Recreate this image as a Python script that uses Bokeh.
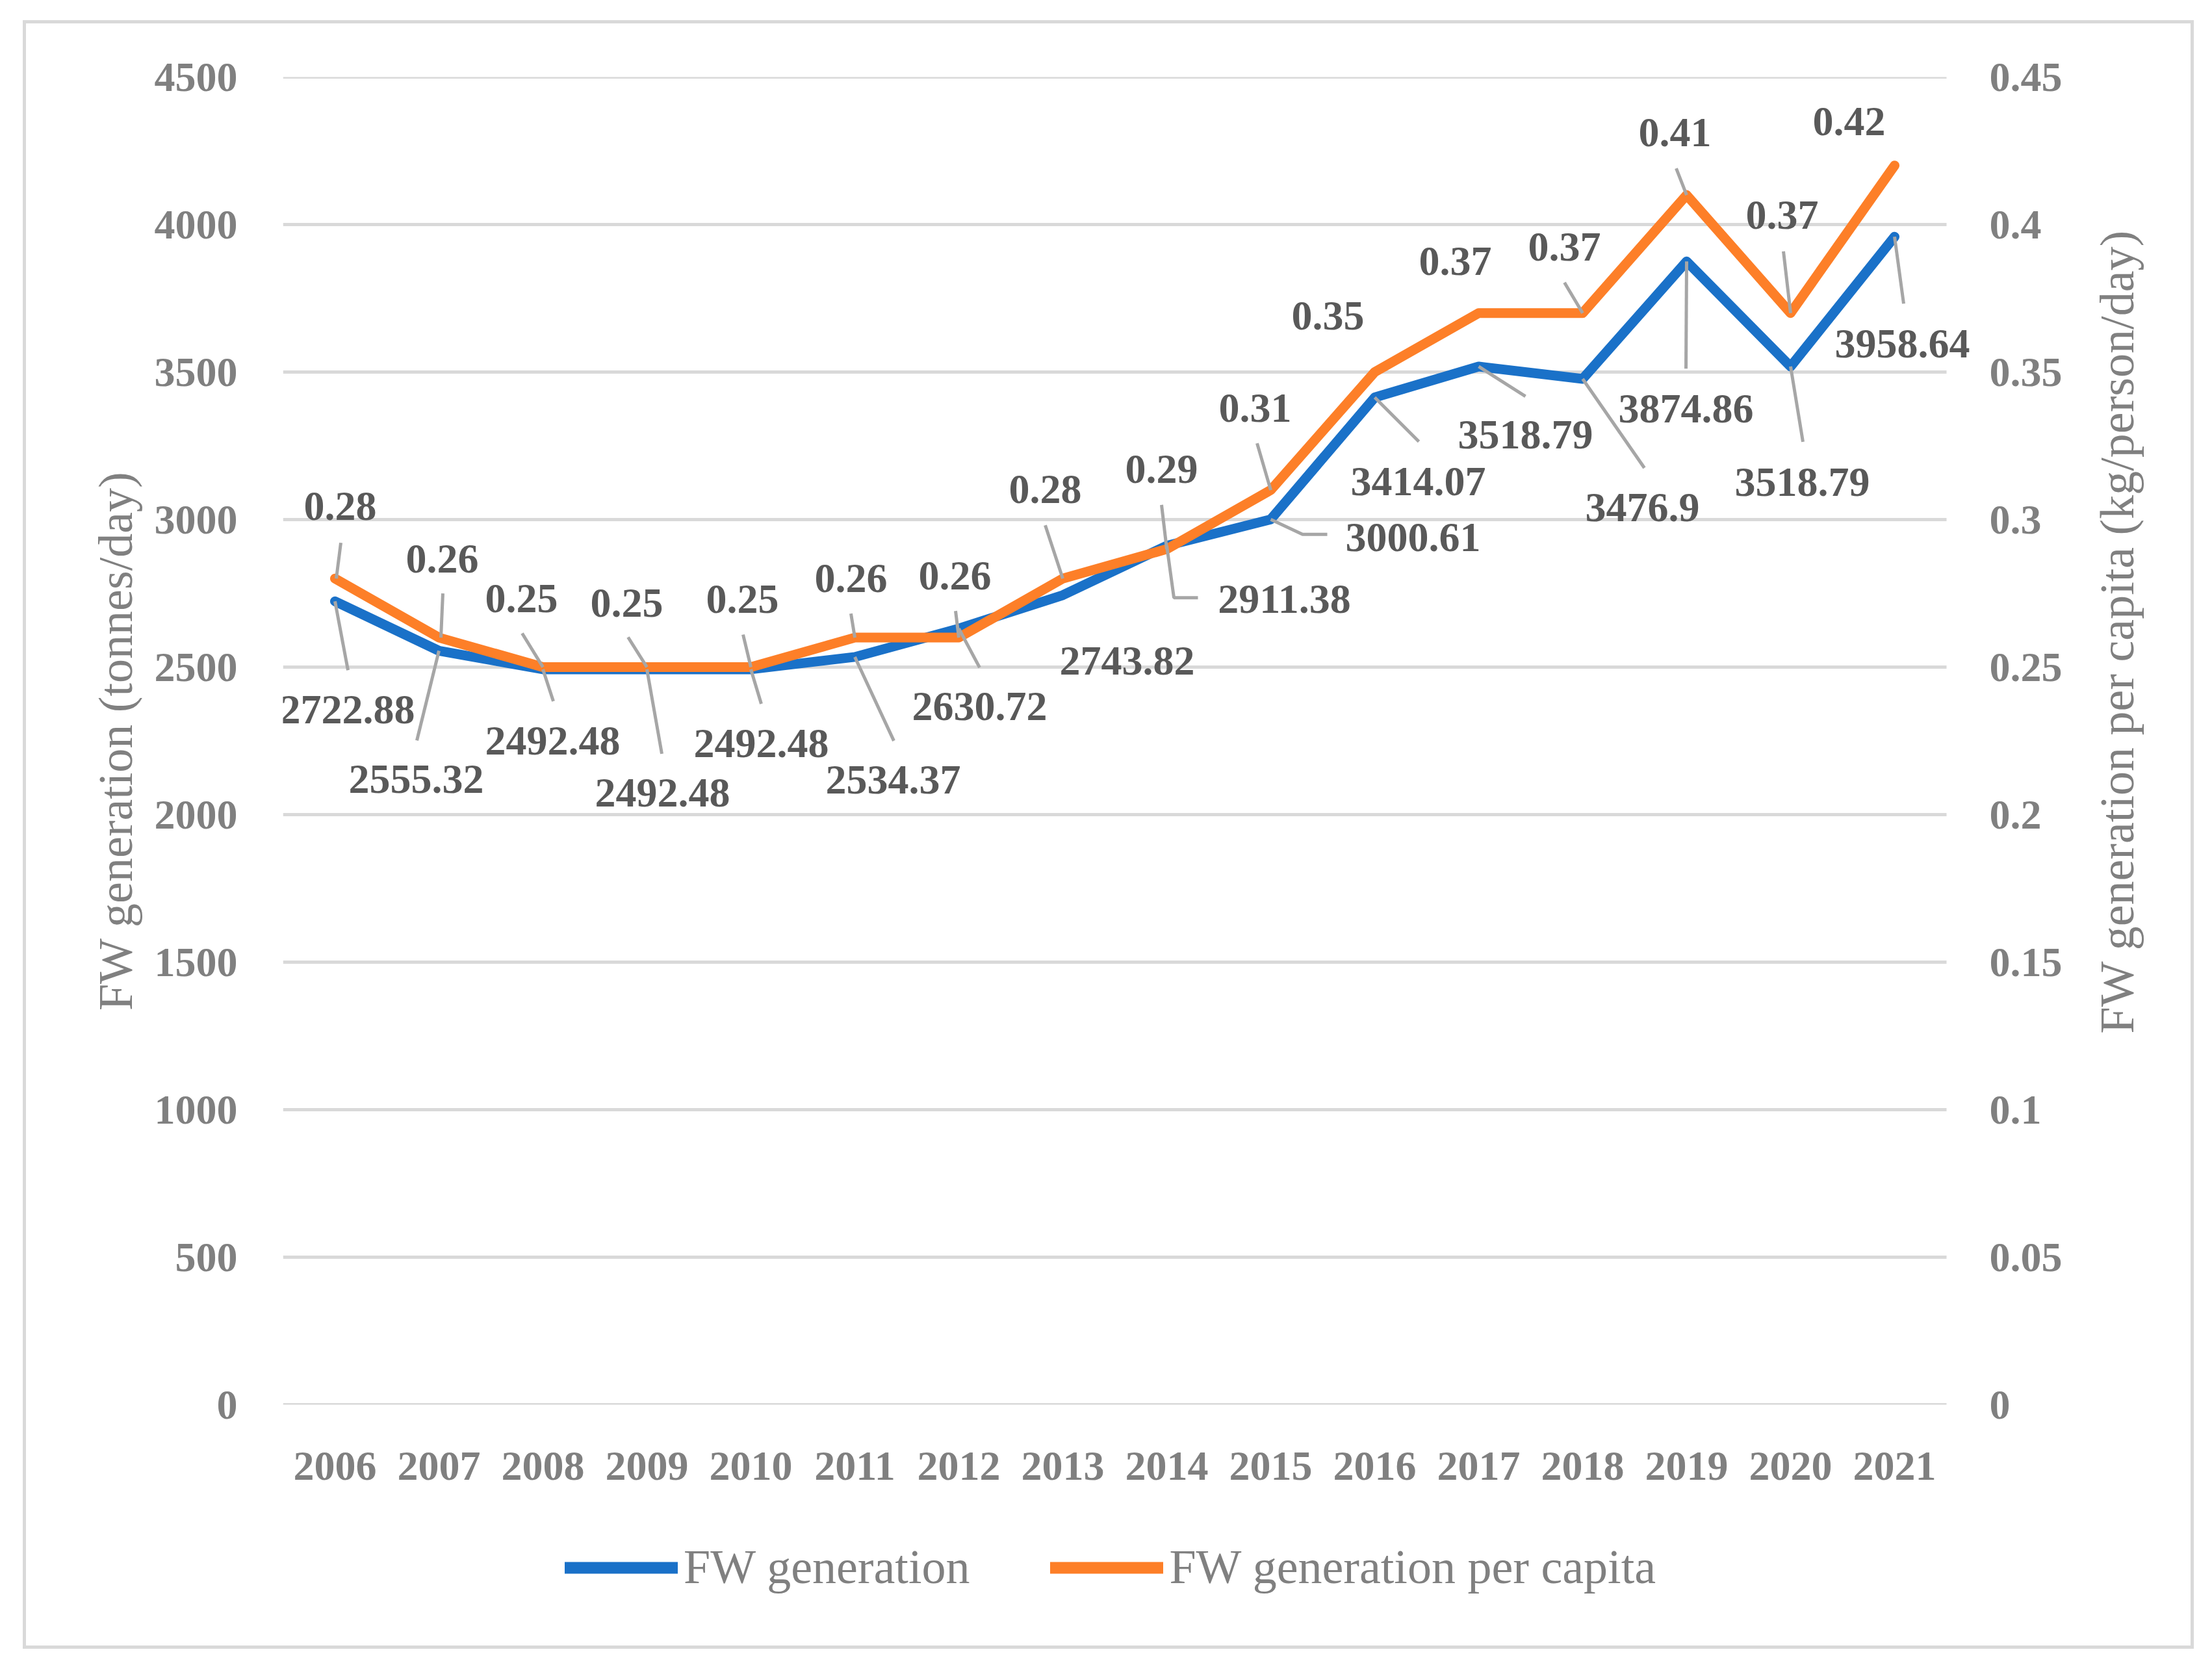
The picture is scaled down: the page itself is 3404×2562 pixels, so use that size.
import math
from bokeh.plotting import figure
from bokeh.layouts import column, row
from bokeh.models import (ColumnDataSource, Range1d, LinearAxis, FixedTicker, Label, LabelSet,
                          NumeralTickFormatter, Legend, LegendItem)
from bokeh.core.properties import value
from bokeh.embed import file_html
from bokeh.resources import INLINE

# data
years = ["2006", "2007", "2008", "2009", "2010", "2011", "2012", "2013",
         "2014", "2015", "2016", "2017", "2018", "2019", "2020", "2021"]
fw_generation = [2722.88, 2555.32, 2492.48, 2492.48, 2492.48, 2534.37, 2630.72, 2743.82,
                 2911.38, 3000.61, 3414.07, 3518.79, 3476.9, 3874.86, 3518.79, 3958.64]
fw_per_capita = [0.28, 0.26, 0.25, 0.25, 0.25, 0.26, 0.26, 0.28,
                 0.29, 0.31, 0.35, 0.37, 0.37, 0.41, 0.37, 0.42]
y_ticks = [0, 500, 1000, 1500, 2000, 2500, 3000, 3500, 4000, 4500]
pc_ticks = [0, 0.05, 0.1, 0.15, 0.2, 0.25, 0.3, 0.35, 0.4, 0.45]

# label placement (screen px offsets from each point, y downwards)
fw_label_dx = [19, -35, 15, 24, 16, 59, 32, 99, 181, 219, 67, 72, 92, -1, 18, 12]
fw_label_dy = [167, 198, 110, 190, 114, 189, 120, 101, 82, 28, 129, 105, 198, 227, 178, 165]
pc_label_dx = [8, 5, -33, -31, -13, -6, -6, -27, -8, -24, -72, -36, -28, -18, -13, -70]
pc_label_dy = [-111, -121, -106, -99, -105, -91, -95, -137, -123, -126, -87, -80, -102, -96, -151, -68]

# leader lines (screen px offsets from each point)
fw_leaders = [[(0, 0), (20, 106)], [(0, 0), (-34, 138)], [(0, 0), (16, 49)], [(0, 0), (23, 130)],
              [(0, 0), (16, 53)], [(0, 0), (60, 129)], [(0, 0), (32, 60)], [],
              [(0, 0), (11, 80), (48, 80)], [(0, 0), (49, 23), (87, 23)], [(0, 0), (68, 68)],
              [(0, 0), (72, 46)], [(0, 0), (95, 137)], [(0, 0), (-1, 165)], [(0, 0), (19, 116)],
              [(0, 0), (14, 103)]]
pc_leaders = [[(9, -55), (2, 0)], [(6, -68), (3, 0)], [(-32, -52), (0, 0)], [(-29, -46), (0, 0)],
              [(-12, -50), (0, 0)], [(-6, -37), (0, 0)], [(-5, -41), (0, 0)], [(-27, -82), (0, 0)],
              [(-8, -68), (0, 0)], [(-21, -72), (0, 0)], [], [], [(-28, -47), (0, 0)],
              [(-16, -41), (0, 0)], [(-11, -95), (0, 0)], []]

BLUE = "#1a71c8"
ORANGE = "#fd7f28"
GRID = "#d9d9d9"
TICK = "#808080"
LABEL = "#595959"
FONT = "Liberation Serif"

N = len(years)
PX_PER_CAT = 160
EXTRA = 0.3                     # room right of the last category so labels are not clipped
FRAME_H = 2043
Y_MAX, PC_MAX = 4500, 0.45
xs = [i + 0.5 for i in range(N)]

# block sizes inside the grey border
LEFT, TOP, RIGHT, BOTTOM = 395, 82, 140, 168
MAIN_W = LEFT + int((N + EXTRA) * PX_PER_CAT) + RIGHT
MAIN_H = TOP + FRAME_H + BOTTOM
TOTAL_W, TOTAL_H = 3331, 2496

p = figure(width=MAIN_W, height=MAIN_H, output_backend="svg", toolbar_location=None,
           x_range=Range1d(0, N + EXTRA), y_range=Range1d(0, Y_MAX),
           min_border_left=LEFT, min_border_top=TOP,
           min_border_right=RIGHT, min_border_bottom=BOTTOM)
p.extra_y_ranges = {"pc": Range1d(0, PC_MAX)}
p.outline_line_color = None
p.xgrid.grid_line_color = None
p.ygrid.grid_line_color = None

# horizontal gridlines over the category span only
p.segment(x0=[0] * len(y_ticks), x1=[N] * len(y_ticks), y0=y_ticks, y1=y_ticks,
          line_color=GRID, line_width=5)


def style_axis(ax):
    ax.axis_line_color = None
    ax.major_tick_line_color = None
    ax.minor_tick_line_color = None
    ax.major_label_text_font = FONT
    ax.major_label_text_font_size = "64px"
    ax.major_label_text_color = TICK
    ax.major_label_text_font_style = "bold"
    ax.axis_label_text_font = FONT
    ax.axis_label_text_font_size = "74px"
    ax.axis_label_text_color = TICK
    ax.axis_label_text_font_style = "normal"


xax = p.xaxis[0]
xax.ticker = FixedTicker(ticks=xs)
xax.major_label_overrides = {x: y for x, y in zip(xs, years)}
style_axis(xax)
xax.major_label_standoff = 67

yax = p.yaxis[0]
yax.ticker = FixedTicker(ticks=y_ticks)
yax.axis_label = "FW generation (tonnes/day)"
style_axis(yax)
yax.major_label_standoff = 64
yax.axis_label_standoff = 16

rax = LinearAxis(y_range_name="pc")
rax.ticker = FixedTicker(ticks=pc_ticks)
rax.formatter = NumeralTickFormatter(format="0.[00]")
style_axis(rax)
rax.major_label_standoff = 60 - int(EXTRA * PX_PER_CAT)
p.add_layout(rax, "right")

# series
p.line(xs, fw_generation, line_color=BLUE, line_width=15, line_join="round", line_cap="round")
p.line(xs, fw_per_capita, line_color=ORANGE, line_width=15, line_join="round", line_cap="round",
       y_range_name="pc")


def leader_coords(leaders, values, ppu):
    lx, ly = [], []
    for x, v, pts in zip(xs, values, leaders):
        if not pts:
            continue
        lx.append([x + dx / PX_PER_CAT for dx, dy in pts])
        ly.append([v - dy / ppu for dx, dy in pts])
    return lx, ly


flx, fly = leader_coords(fw_leaders, fw_generation, FRAME_H / Y_MAX)
plx, ply = leader_coords(pc_leaders, fw_per_capita, FRAME_H / PC_MAX)
p.multi_line(flx, fly, line_color="#a6a6a6", line_width=5)
p.multi_line(plx, ply, line_color="#a6a6a6", line_width=5, y_range_name="pc")

# data labels
fw_src = ColumnDataSource(dict(x=xs, y=fw_generation, t=[f"{v:g}" for v in fw_generation],
                               dx=fw_label_dx, dy=[-d for d in fw_label_dy]))
pc_src = ColumnDataSource(dict(x=xs, y=fw_per_capita, t=[f"{v:g}" for v in fw_per_capita],
                               dx=pc_label_dx, dy=[-d for d in pc_label_dy]))
for src, rng in ((fw_src, "default"), (pc_src, "pc")):
    p.add_layout(LabelSet(x="x", y="y", text="t", x_offset="dx", y_offset="dy", source=src,
                          y_range_name=rng, text_font=value(FONT), text_font_size="64px",
                          text_font_style="bold", text_color=LABEL, text_align="center",
                          text_baseline="middle"))


def blank(width, height):
    f = figure(width=width, height=height, output_backend="svg", toolbar_location=None,
               x_range=Range1d(0, 1), y_range=Range1d(0, 1), x_axis_type=None,
               y_axis_type=None, min_border=0)
    f.outline_line_color = None
    f.xgrid.visible = False
    f.ygrid.visible = False
    return f


# right-hand axis title, reading bottom to top
side = blank(TOTAL_W - MAIN_W, MAIN_H)
side.add_layout(Label(x=74, y=MAIN_H - (TOP + FRAME_H / 2), x_units="screen", y_units="screen",
                      text="FW generation per capita (kg/person/day)", angle=math.pi / 2,
                      text_align="center", text_baseline="middle", text_font=FONT,
                      text_font_size="74px", text_color=TICK))

# legend strip (glyph renderers sit outside the visible range)
leg = blank(TOTAL_W, TOTAL_H - MAIN_H)
lg_fw = leg.line([-3, -2], [0, 0], line_color=BLUE, line_width=18, line_cap="round")
lg_pc = leg.line([-3, -2], [0, 0], line_color=ORANGE, line_width=18, line_cap="round")
legend = Legend(items=[LegendItem(label="FW generation", renderers=[lg_fw]),
                       LegendItem(label="FW generation per capita", renderers=[lg_pc])],
                orientation="horizontal", location=(829, 78),
                label_text_font=FONT, label_text_font_size="74px", label_text_color=TICK,
                glyph_width=174, glyph_height=40, label_standoff=9, spacing=124,
                padding=0, margin=0, border_line_color=None, background_fill_alpha=0)
leg.add_layout(legend, "center")

layout = column(row(p, side), leg)
layout.styles = {"border": "5px solid #d9d9d9", "margin-left": "35px", "margin-top": "31px",
                 "box-sizing": "content-box", "width": f"{TOTAL_W}px",
                 "height": f"{TOTAL_H}px"}

open("out.html", "w").write(file_html(layout, INLINE))
